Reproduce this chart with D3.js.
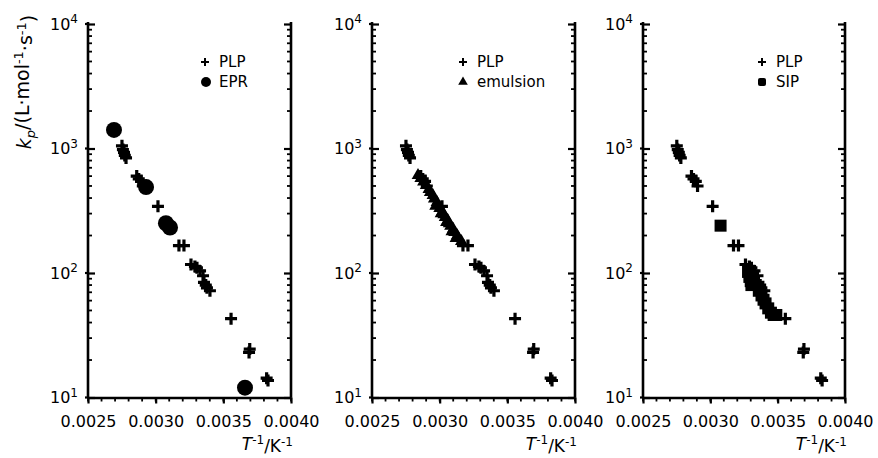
<!DOCTYPE html>
<html>
<head>
<meta charset="utf-8">
<script src="https://cdn.jsdelivr.net/npm/d3@7"></script>
<style>
  body { margin: 0; background: #fff; }
  text { font-family: "DejaVu Sans", sans-serif; fill: #000; }
</style>
</head>
<body>
<div id="chart"></div>
<script>
// x = T^-1 (1/K), y = kp (L mol^-1 s^-1)
var xTickValues = [0.0025, 0.0030, 0.0035, 0.0040];
var yTickExponents = [1, 2, 3, 4];

var plpInvT = [0.002751, 0.002758, 0.002766, 0.002772, 0.002781,
    0.002860, 0.002875, 0.002892, 0.002905,
    0.003017, 0.003172, 0.003209,
    0.003261, 0.003290, 0.003305, 0.003328, 0.003350, 0.003357, 0.003370, 0.003379, 0.003401,
    0.003557, 0.003690, 0.003695, 0.003820, 0.003830];
var plpKp = [1050, 980, 930, 880, 840,
    600, 570, 545, 500,
    343, 166, 166,
    117, 113, 110, 104, 95, 84, 80, 76, 72,
    43, 23, 24.5, 14.3, 13.7];

var eprInvT = [0.002692, 0.002929, 0.003076, 0.003106, 0.003660];
var eprKp = [1410, 490, 251, 232, 12.0];

var emulsionInvT = [0.00284, 0.00286, 0.00288, 0.00290, 0.00292, 0.00293, 0.00295, 0.00296,
    0.00298, 0.00299, 0.00300, 0.00302, 0.00303, 0.00304, 0.00306, 0.00307, 0.00308,
    0.00310, 0.00311, 0.00313, 0.00314, 0.00316, 0.00297, 0.00301, 0.00305, 0.00309, 0.00312];
var emulsionKp = [610, 575, 540, 505, 470, 445, 420, 395,
    370, 350, 330, 312, 295, 280, 265, 250, 238,
    225, 212, 200, 190, 180, 345, 300, 255, 215, 190];

var sipInvT = [0.003076, 0.003280, 0.003290, 0.003300, 0.003315, 0.003305,
    0.003360, 0.003380, 0.003395, 0.003410, 0.003430, 0.003450, 0.003470, 0.003490];
var sipKp = [240, 102, 93, 86, 88, 80,
    72, 66, 61, 57, 52, 48, 46, 46];

var legendNames = ["EPR", "emulsion", "SIP"];

var svgWidth = 878;
var svgHeight = 458;

var svg = d3.select("#chart")
    .append("svg")
    .attr("width", svgWidth)
    .attr("height", svgHeight);

var panels = [
    { left: 88, width: 203, legendX: 117, kind: "circle", invT: eprInvT, kp: eprKp, name: legendNames[0] },
    { left: 372, width: 203, legendX: 91, kind: "triangle", invT: emulsionInvT, kp: emulsionKp, name: legendNames[1] },
    { left: 643, width: 202, legendX: 119, kind: "square", invT: sipInvT, kp: sipKp, name: legendNames[2] }
];

var plotTop = 24;
var plotHeight = 373.5;

var crossPath = "M-6,0H6M0,-6V6";

panels.forEach(function (p) {
    var g = svg.append("g").attr("transform", `translate(${p.left}, ${plotTop})`);

    var x = d3.scaleLinear().domain([0.0025, 0.0040]).range([0, p.width]);
    var y = d3.scaleLog().domain([10, 10000]).range([plotHeight, 0]);

    // minor tick positions
    var xMinor = d3.range(25, 41).map(i => i / 10000);
    var yMinor = [];
    [1, 2, 3].forEach(e => {
        for (var m = 2; m <= 9; m++) yMinor.push(m * Math.pow(10, e));
    });

    // bottom axis
    var bottom = g.append("g").attr("transform", `translate(0, ${plotHeight})`);
    bottom.call(d3.axisBottom(x).tickValues(xTickValues).tickSize(6).tickSizeOuter(0)
        .tickPadding(12).tickFormat(d3.format(".4f")));
    bottom.selectAll(".minor").data(xMinor).enter().append("line")
        .attr("x1", d => x(d)).attr("x2", d => x(d))
        .attr("y1", 0).attr("y2", 4)
        .attr("stroke", "#000").attr("stroke-width", 1.8);
    bottom.selectAll("text").attr("font-size", "16px").attr("font-family", "DejaVu Sans");

    // left axis, ticks inside
    var leftAx = g.append("g");
    leftAx.call(d3.axisRight(y).tickValues(yTickExponents.map(e => Math.pow(10, e)))
        .tickSize(7).tickSizeOuter(0).tickFormat(""));
    leftAx.selectAll(".minor").data(yMinor).enter().append("line")
        .attr("x1", 0).attr("x2", 4)
        .attr("y1", d => y(d)).attr("y2", d => y(d))
        .attr("stroke", "#000").attr("stroke-width", 1.8);
    leftAx.selectAll(".out").data(yTickExponents).enter().append("line")
        .attr("x1", -3).attr("x2", 0)
        .attr("y1", d => y(Math.pow(10, d))).attr("y2", d => y(Math.pow(10, d)))
        .attr("stroke", "#000").attr("stroke-width", 2.2);

    // right axis, ticks inside
    var rightAx = g.append("g").attr("transform", `translate(${p.width}, 0)`);
    rightAx.call(d3.axisLeft(y).tickValues(yTickExponents.map(e => Math.pow(10, e)))
        .tickSize(7).tickSizeOuter(0).tickFormat(""));
    rightAx.selectAll(".minor").data(yMinor).enter().append("line")
        .attr("x1", 0).attr("x2", -4)
        .attr("y1", d => y(d)).attr("y2", d => y(d))
        .attr("stroke", "#000").attr("stroke-width", 1.8);

    g.selectAll(".domain").attr("stroke-width", 2.6);
    g.selectAll(".tick line").attr("stroke-width", 2.2);
    leftAx.select(".domain").attr("d", `M0,-2V${plotHeight}`);
    rightAx.select(".domain").attr("d", `M0,-2V${plotHeight}`);

    // y tick labels 10^n
    var yLab = g.selectAll(".ylab").data(yTickExponents).enter().append("text")
        .attr("x", -10)
        .attr("y", d => y(Math.pow(10, d)))
        .attr("text-anchor", "end")
        .attr("font-size", "16px");
    yLab.append("tspan").attr("dy", "0.36em").text("10");
    yLab.append("tspan").attr("dy", "-0.55em").attr("font-size", "12px").text(d => d);

    // x axis title
    var xt = g.append("text")
        .attr("x", p.width + 2)
        .attr("y", plotHeight + 52)
        .attr("text-anchor", "end")
        .attr("font-size", "17px");
    xt.append("tspan").attr("font-style", "italic").text("T");
    xt.append("tspan").attr("dy", "-0.45em").attr("font-size", "12px").text("-1");
    xt.append("tspan").attr("dy", "0.45em").text("/K");
    xt.append("tspan").attr("dy", "-0.45em").attr("font-size", "12px").text("-1");

    // PLP crosses
    g.selectAll(".plp").data(d3.range(plpInvT.length)).enter().append("path")
        .attr("d", crossPath)
        .attr("transform", i => `translate(${x(plpInvT[i])}, ${y(plpKp[i])})`)
        .attr("stroke", "#000").attr("stroke-width", 3.2).attr("fill", "none");

    // second series
    var idx = d3.range(p.invT.length);
    if (p.kind === "circle") {
        g.selectAll(".pt").data(idx).enter().append("circle")
            .attr("cx", i => x(p.invT[i])).attr("cy", i => y(p.kp[i]))
            .attr("r", 8).attr("fill", "#000");
    } else if (p.kind === "triangle") {
        g.selectAll(".pt").data(idx).enter().append("path")
            .attr("d", d3.symbol(d3.symbolTriangle).size(70))
            .attr("transform", i => `translate(${x(p.invT[i])}, ${y(p.kp[i])})`)
            .attr("fill", "#000");
    } else {
        g.selectAll(".pt").data(idx).enter().append("rect")
            .attr("x", i => x(p.invT[i]) - 6).attr("y", i => y(p.kp[i]) - 6)
            .attr("width", 12).attr("height", 12).attr("fill", "#000");
    }

    // legend
    var lg = g.append("g").attr("transform", `translate(${p.legendX}, 0)`);
    lg.append("path").attr("d", "M-4,0H4M0,-4V4")
        .attr("transform", "translate(0, 38)")
        .attr("stroke", "#000").attr("stroke-width", 2);
    lg.append("text").attr("x", 14).attr("y", 38).attr("dy", "0.36em")
        .attr("font-size", "15px").text("PLP");
    if (p.kind === "circle") {
        lg.append("circle").attr("cx", 1).attr("cy", 58).attr("r", 5).attr("fill", "#000");
    } else if (p.kind === "triangle") {
        lg.append("path").attr("d", d3.symbol(d3.symbolTriangle).size(40))
            .attr("transform", "translate(0, 58)").attr("fill", "#000");
    } else {
        lg.append("rect").attr("x", -4).attr("y", 54).attr("width", 8).attr("height", 8)
            .attr("rx", 2).attr("fill", "#000");
    }
    lg.append("text").attr("x", 14).attr("y", 58).attr("dy", "0.36em")
        .attr("font-size", "15px").text(p.name);
});

// y axis title
var yt = svg.append("text")
    .attr("transform", "translate(31, 82) rotate(-90)")
    .attr("text-anchor", "middle")
    .attr("font-size", "19px");
yt.append("tspan").attr("font-style", "italic").text("k");
yt.append("tspan").attr("dy", "0.3em").attr("font-size", "13px").attr("font-style", "italic").text("p");
yt.append("tspan").attr("dy", "-0.3em").text("/(L\u00b7mol");
yt.append("tspan").attr("dy", "-0.45em").attr("font-size", "13px").text("-1");
yt.append("tspan").attr("dy", "0.45em").text("\u00b7s");
yt.append("tspan").attr("dy", "-0.45em").attr("font-size", "13px").text("-1");
yt.append("tspan").attr("dy", "0.45em").text(")");
</script>
</body>
</html>
